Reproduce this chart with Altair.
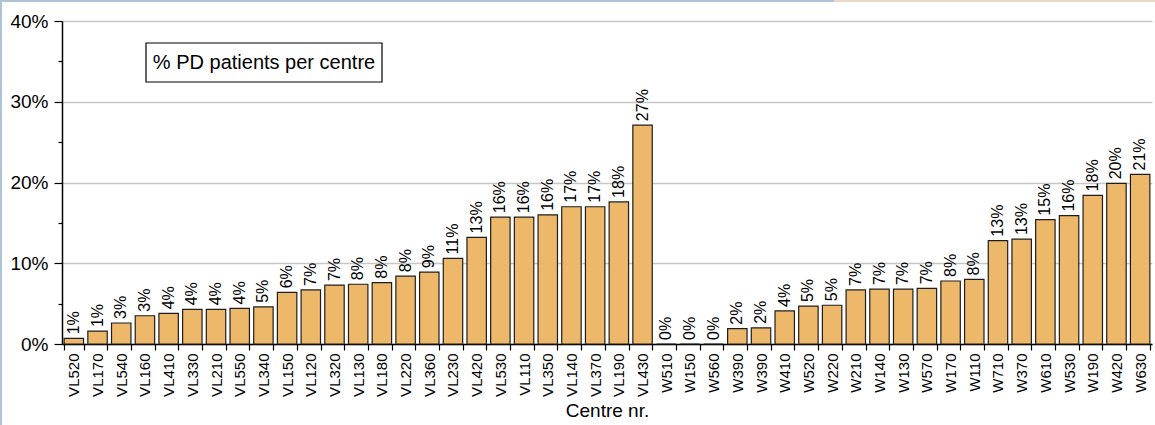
import json
import altair as alt
import pandas as pd

centres = ["VL520", "VL170", "VL540", "VL160", "VL410", "VL330", "VL210", "VL550", "VL340",
           "VL150", "VL120", "VL320", "VL130", "VL180", "VL220", "VL360", "VL230", "VL420",
           "VL530", "VL110", "VL350", "VL140", "VL370", "VL190", "VL430",
           "W510", "W150", "W560", "W390", "W390", "W410", "W520", "W220", "W210", "W140",
           "W130", "W570", "W170", "W110", "W710", "W370", "W610", "W530", "W190", "W420", "W630"]
values = [0.7, 1.6, 2.6, 3.5, 3.8, 4.3, 4.3, 4.4, 4.6,
          6.4, 6.7, 7.3, 7.4, 7.6, 8.4, 8.9, 10.6, 13.2,
          15.7, 15.7, 16.0, 17.0, 17.0, 17.6, 27.1,
          0.0, 0.0, 0.0, 1.9, 2.0, 4.1, 4.7, 4.8, 6.7, 6.8,
          6.8, 6.9, 7.8, 8.0, 12.8, 13.0, 15.4, 15.9, 18.4, 19.9, 21.0]
labels = ["1%", "1%", "3%", "3%", "4%", "4%", "4%", "4%", "5%",
          "6%", "7%", "7%", "8%", "8%", "8%", "9%", "11%", "13%",
          "16%", "16%", "16%", "17%", "17%", "18%", "27%",
          "0%", "0%", "0%", "2%", "2%", "4%", "5%", "5%", "7%", "7%",
          "7%", "7%", "8%", "8%", "13%", "13%", "15%", "16%", "18%", "20%", "21%"]
y_ticks = [0, 5, 10, 15, 20, 25, 30, 35, 40]
box_title = "% PD patients per centre"

FONT = "Liberation Sans"

df = pd.DataFrame({"i": list(range(len(centres))), "centre": centres,
                   "value": values, "label": labels})

x = alt.X("i:O",
          scale=alt.Scale(paddingInner=0.18, paddingOuter=0.09),
          axis=alt.Axis(labelExpr=f"{json.dumps(centres)}[datum.value]",
                        labelAngle=270, labelFontSize=15, labelFont=FONT,
                        labelColor="black", labelPadding=3,
                        tickBand="extent", tickSize=6, tickColor="black",
                        domainColor="black", domainWidth=1.5, tickWidth=1.2,
                        title="Centre nr.", titleFont=FONT, titleFontSize=19,
                        titleFontWeight="normal", titleColor="black", titlePadding=5,
                        grid=False))
y = alt.Y("value:Q",
          scale=alt.Scale(domain=[0, 40], nice=False),
          axis=alt.Axis(values=y_ticks,
                        labelExpr="round(datum.value) % 10 == 0 ? datum.value + '%' : ''",
                        labelFontSize=19, labelFont=FONT, labelColor="black", labelPadding=6,
                        tickSize={"condition": {"test": "round(datum.value) % 10 == 0", "value": 8}, "value": 4},
                        tickColor="black", tickWidth=1.2,
                        domainColor="black", domainWidth=1.5,
                        grid=True, gridColor="#c6c6c6", gridWidth=1.5,
                        gridOpacity={"condition": {"test": "round(datum.value) % 10 == 0", "value": 1}, "value": 0},
                        title=None))

bars = alt.Chart(df).mark_bar(color="#EDB869", stroke="#1e1e1e", strokeWidth=1.2).encode(x=x, y=y)

texts = alt.Chart(df).mark_text(angle=270, align="left", baseline="middle", dx=4,
                                fontSize=16, font=FONT, color="black").encode(
    x=alt.X("i:O"), y=alt.Y("value:Q"), text="label:N")

box_df = pd.DataFrame({"t": [box_title]})
box = alt.Chart(box_df).mark_rect(fill="white", stroke="black", strokeWidth=1.2).encode(
    x=alt.value(84), x2=alt.value(320), y=alt.value(22), y2=alt.value(61))
box_text = alt.Chart(box_df).mark_text(fontSize=20, font=FONT, color="black",
                                       align="center", baseline="middle").encode(
    x=alt.value(202), y=alt.value(42), text="t:N")

# decorative page frame (slide border) around the chart
frame_top_blue = alt.Chart(box_df).mark_rule(color="#afc3d6", strokeWidth=2).encode(
    x=alt.value(-62), x2=alt.value(772), y=alt.value(-20))
frame_top_pink = alt.Chart(box_df).mark_rule(color="#ecd8c9", strokeWidth=2).encode(
    x=alt.value(772), x2=alt.value(1093), y=alt.value(-20))
frame_left = alt.Chart(box_df).mark_rule(color="#afc3d6", strokeWidth=2).encode(
    x=alt.value(-61), y=alt.value(-21), y2=alt.value(404))

chart = alt.layer(frame_top_blue, frame_top_pink, frame_left,
                  bars, texts, box, box_text).properties(
    width=1090, height=323,
    autosize=alt.AutoSizeParams(type="none"),
    padding={"left": 62, "top": 21, "right": 3, "bottom": 81},
    background="white",
).configure_view(stroke=None)

chart.save("out.html", embed_options={"renderer": "svg", "actions": False})
